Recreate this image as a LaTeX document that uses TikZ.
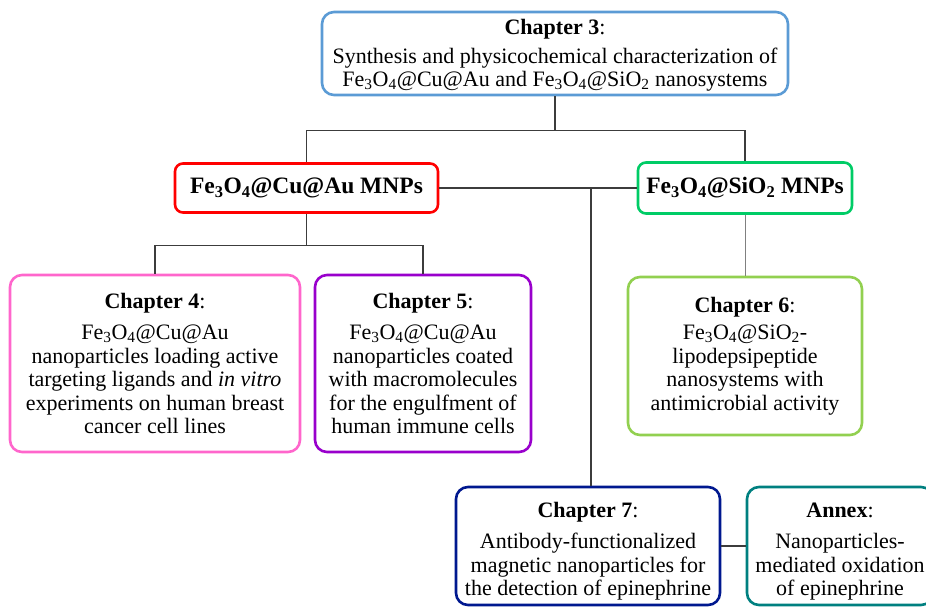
\documentclass[tikz,border=0pt]{standalone}
\usepackage{fontspec}
\setmainfont{Liberation Serif}
\usepackage{tikz}
\usetikzlibrary{calc}
\newcommand{\feo}{Fe\textsubscript{3}O\textsubscript{4}}
\definecolor{chblue}{RGB}{91,155,213}
\definecolor{mnpred}{RGB}{255,0,0}
\definecolor{mnpgreen}{RGB}{0,204,102}
\definecolor{chpink}{RGB}{255,102,204}
\definecolor{chpurple}{RGB}{153,0,204}
\definecolor{chlime}{RGB}{146,208,80}
\definecolor{chnavy}{RGB}{0,24,143}
\definecolor{chteal}{RGB}{0,128,128}
\definecolor{linkgray}{RGB}{60,60,60}

\begin{document}
\begin{tikzpicture}[x=1pt,y=-1pt,
    box/.style={draw,line width=2.6pt,rounded corners=12pt,fill=white,align=center,
        inner sep=0pt,font=\fontsize{22}{23.5}\selectfont},
    mnp/.style={box,rounded corners=8pt,font=\fontsize{23.5}{26}\selectfont},
    link/.style={draw=linkgray,line width=1.2pt}]
\useasboundingbox (0,0) rectangle (926,607);

% top chapter
\node[box,draw=chblue,minimum width=466pt,minimum height=83pt] (ch3) at (555,53.5)
    {\rule{0pt}{19pt}\textbf{Chapter 3}:\\[5pt]
     Synthesis and physicochemical characterization of\\
     \feo @Cu@Au and \feo @SiO\textsubscript{2} nanosystems};

% the two kinds of particles
\node[mnp,draw=mnpred,minimum width=263pt,minimum height=49pt] (mnpau) at (306.5,188)
    {\textbf{\feo @Cu@Au MNPs}};
\node[mnp,draw=mnpgreen,minimum width=214pt,minimum height=51pt] (mnpsi) at (745,188)
    {\textbf{\feo @SiO\textsubscript{2} MNPs}};

% chapters below
\node[box,draw=chpink,minimum width=290pt,minimum height=177pt] (ch4) at (155,363.5)
    {\textbf{Chapter 4}:\\[8pt]
     \feo @Cu@Au\\
     nanoparticles loading active\\
     targeting ligands and \textit{in vitro}\\
     experiments on human breast\\
     cancer cell lines};
\node[box,draw=chpurple,minimum width=216pt,minimum height=177pt] (ch5) at (423,363.5)
    {\textbf{Chapter 5}:\\[8pt]
     \feo @Cu@Au\\
     nanoparticles coated\\
     with macromolecules\\
     for the engulfment of\\
     human immune cells};
\node[box,draw=chlime,minimum width=234pt,minimum height=158pt] (ch6) at (745,356)
    {\textbf{Chapter 6}:\\[4pt]
     \feo @SiO\textsubscript{2}-\\
     lipodepsipeptide\\
     nanosystems with\\
     antimicrobial activity};
\node[box,draw=chnavy,minimum width=264pt,minimum height=118pt] (ch7) at (588,546)
    {\rule{0pt}{26pt}\textbf{Chapter 7}:\\[8pt]
     Antibody-functionalized\\
     magnetic nanoparticles for\\
     the detection of epinephrine};
\node[box,draw=chteal,minimum width=186pt,minimum height=118pt] (annex) at (840,546)
    {\rule{0pt}{26pt}\textbf{Annex}:\\[8pt]
     Nanoparticles-\\
     mediated oxidation\\
     of epinephrine};

% connectors
\coordinate (split1) at ($(ch3.south)+(0,34)$);
\coordinate (split2) at ($(mnpau.south)+(0,32)$);
\coordinate (tap) at ($(ch7.north |- mnpau.east)+(3,0)$);
\draw[link] (ch3.south) -- (split1);
\draw[link] (mnpau.north) |- (split1) -| (mnpsi.north);
\draw[link] (mnpau.east) -- (mnpsi.west);
\draw[link] (tap) -- (tap |- ch7.north);
\draw[link] (mnpau.south) -- (split2);
\draw[link] (ch4.north) |- (split2) -| (ch5.north);
\draw[draw=gray,line width=0.8pt] (mnpsi.south) -- (ch6.north);
\draw[link] (ch7.east) -- (annex.west);
\end{tikzpicture}
\end{document}
